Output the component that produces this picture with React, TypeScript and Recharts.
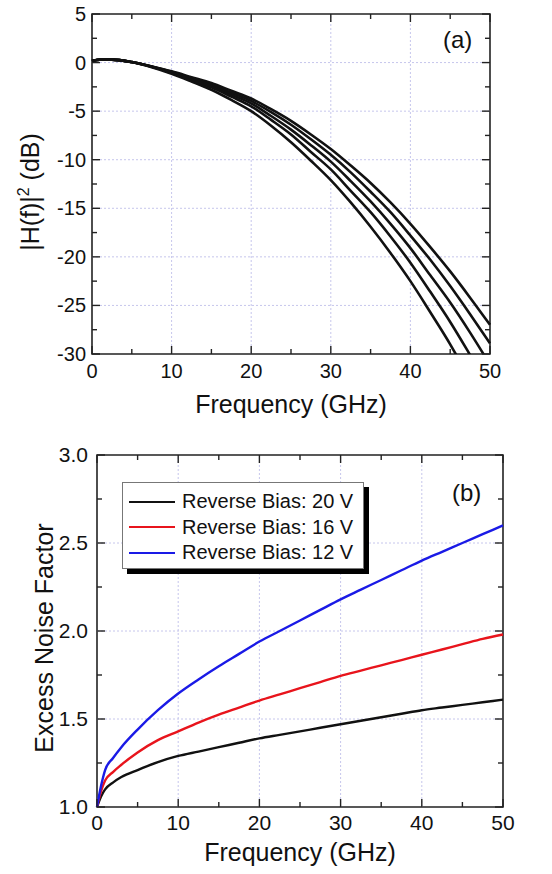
import { LineChart, Line, XAxis, YAxis, ReferenceLine, ReferenceArea, Legend } from 'recharts'

const FONT = '"Liberation Sans", Arial, Helvetica, sans-serif'

// panel (a): |H(f)|^2 in dB for five bias settings
const freqA = [0, 1, 2.5, 5, 7.5, 10, 12.5, 15, 17.5, 20, 22.5, 25, 27.5, 30, 32.5, 35, 37.5, 40, 42.5, 45, 47.5, 50]
const resp1 = [0.15, 0.3, 0.3, 0.05, -0.4, -0.9, -1.5, -2.1, -2.9, -3.7, -4.8, -6.0, -7.4, -8.9, -10.6, -12.4, -14.4, -16.6, -19.0, -21.5, -24.2, -27.0]
const resp2 = [0.15, 0.3, 0.3, 0.05, -0.4, -0.95, -1.6, -2.25, -3.1, -3.95, -5.1, -6.4, -7.9, -9.5, -11.3, -13.3, -15.4, -17.8, -20.3, -23.0, -25.9, -28.9]
const resp3 = [0.15, 0.3, 0.3, 0.05, -0.42, -1.0, -1.7, -2.4, -3.3, -4.2, -5.5, -6.9, -8.5, -10.2, -12.2, -14.3, -16.6, -19.1, -21.9, -24.7, -27.8, -31.1]
const resp4 = [0.15, 0.3, 0.3, 0.05, -0.44, -1.05, -1.8, -2.55, -3.5, -4.5, -5.9, -7.4, -9.2, -11.0, -13.2, -15.4, -17.9, -20.6, -23.6, -26.7, -30.1, -33.6]
const resp5 = [0.15, 0.3, 0.3, 0.03, -0.48, -1.15, -1.95, -2.8, -3.85, -5.0, -6.5, -8.2, -10.1, -12.1, -14.4, -16.9, -19.6, -22.5, -25.7, -29.0, -32.7, -36.5]

// panel (b): excess noise factor
const freqB = [0, 0.5, 1, 2, 3, 5, 7.5, 10, 12.5, 15, 17.5, 20, 22.5, 25, 27.5, 30, 32.5, 35, 37.5, 40, 42.5, 45, 47.5, 50]
const bias20 = [1.0, 1.06, 1.1, 1.14, 1.17, 1.21, 1.255, 1.29, 1.315, 1.34, 1.365, 1.39, 1.41, 1.43, 1.45, 1.47, 1.49, 1.51, 1.53, 1.55, 1.565, 1.58, 1.595, 1.61]
const bias16 = [1.0, 1.09, 1.15, 1.2, 1.24, 1.31, 1.38, 1.43, 1.48, 1.525, 1.565, 1.605, 1.64, 1.675, 1.71, 1.745, 1.775, 1.805, 1.835, 1.865, 1.895, 1.925, 1.955, 1.98]
const bias12 = [1.0, 1.12, 1.21, 1.28, 1.34, 1.44, 1.55, 1.645, 1.725, 1.8, 1.87, 1.94, 2.0, 2.06, 2.12, 2.18, 2.235, 2.29, 2.345, 2.4, 2.45, 2.5, 2.55, 2.6]
const legendOrder = ['v20', 'v16', 'v12']

const xTicks = [0, 5, 10, 15, 20, 25, 30, 35, 40, 45, 50]
const xGrid = [10, 20, 30, 40]
const yTicksA = [5, 2.5, 0, -2.5, -5, -7.5, -10, -12.5, -15, -17.5, -20, -22.5, -25, -27.5, -30]
const yGridA = [0, -5, -10, -15, -20, -25]
const yTicksB = [1, 1.25, 1.5, 1.75, 2, 2.25, 2.5, 2.75, 3]
const yGridB = [1.5, 2, 2.5]

const dataA = freqA.map((f, i) => ({ f, r1: resp1[i], r2: resp2[i], r3: resp3[i], r4: resp4[i], r5: resp5[i] }))
const dataB = freqB.map((f, i) => ({ f, v20: bias20[i], v16: bias16[i], v12: bias12[i] }))

const GRID = '#c6c6ec'

const makeXTick = (plotH: number, labelDy: number, fs: number) => (props: any) => {
  const { x, y, payload } = props
  const v = payload.value
  const major = v % 10 === 0
  const len = major ? 8 : 5
  return (
    <g>
      <line x1={x} x2={x} y1={y} y2={y - len} stroke="#222" strokeWidth={1.4} />
      <line x1={x} x2={x} y1={y - plotH} y2={y - plotH + len} stroke="#222" strokeWidth={1.4} />
      {major && (
        <text x={x} y={y + labelDy} textAnchor="middle" fontSize={fs} fontFamily={FONT} fill="#111">{v}</text>
      )}
    </g>
  )
}

const makeYTick = (plotW: number, labelDx: number, fs: number, isMajor: (v: number) => boolean, fmt: (v: number) => string) => (props: any) => {
  const { x, y, payload } = props
  const v = payload.value
  const major = isMajor(v)
  const len = major ? 8 : 5
  return (
    <g>
      <line x1={x} x2={x + len} y1={y} y2={y} stroke="#222" strokeWidth={1.4} />
      <line x1={x + plotW} x2={x + plotW - len} y1={y} y2={y} stroke="#222" strokeWidth={1.4} />
      {major && (
        <text x={x - labelDx} y={y + 7} textAnchor="end" fontSize={fs} fontFamily={FONT} fill="#111">{fmt(v)}</text>
      )}
    </g>
  )
}

const xTitle = (dy: number) => (p: any) => {
  const vb = p.viewBox
  return (
    <text x={vb.x + vb.width / 2} y={vb.y + dy} textAnchor="middle" fontSize={25} fontFamily={FONT} fill="#111">
      Frequency (GHz)
    </text>
  )
}

function renderLegend(props: any) {
  const items = [...(props.payload || [])].sort(
    (a: any, b: any) => legendOrder.indexOf(a.dataKey) - legendOrder.indexOf(b.dataKey)
  )
  return (
    <div style={{
      width: 242, height: 87, boxSizing: 'border-box', background: '#fff',
      border: '1px solid #777', boxShadow: '5px 5px 0 #000',
      padding: '6px 0 0 6px', fontFamily: FONT, fontSize: 20, color: '#111',
    }}>
      {items.map((it: any) => (
        <div key={it.value} style={{ display: 'flex', alignItems: 'center', height: 25.5 }}>
          <span style={{ display: 'inline-block', width: 46, borderTop: `2.5px solid ${it.color}`, marginRight: 7 }} />
          <span>{it.value}</span>
        </div>
      ))}
    </div>
  )
}

const lineProps = { type: 'monotone' as const, dot: false, isAnimationActive: false, activeDot: false }

export default function App() {
  return (
    <div style={{ position: 'absolute', left: 0, top: 0, width: 552, height: 874, background: '#fff' }}>
      {/* (a) frequency response */}
      <div style={{ position: 'absolute', left: 0, top: 0 }}>
        <LineChart width={552} height={440} data={dataA} margin={{ top: 14, right: 62, bottom: 26, left: 32 }}>
          <XAxis
            type="number" dataKey="f" domain={[0, 50]} ticks={xTicks} interval={0}
            axisLine={false} tickLine={false} tickSize={0} tickMargin={0} height={60}
            tick={makeXTick(340, 24, 20)}
            label={{ content: xTitle(59) }}
          />
          <YAxis
            type="number" domain={[-30, 5]} ticks={yTicksA} interval={0} allowDataOverflow
            axisLine={false} tickLine={false} tickSize={0} tickMargin={0} width={60}
            tick={makeYTick(398, 6, 20, v => v % 5 === 0, v => String(v))}
            label={{
              content: (p: any) => {
                const vb = p.viewBox
                const cx = vb.x + 7
                const cy = vb.y + vb.height / 2 + 8
                return (
                  <text x={cx} y={cy} transform={`rotate(-90, ${cx}, ${cy})`} textAnchor="middle" fontSize={25} fontFamily={FONT} fill="#111">
                    <tspan>|H(f)|</tspan>
                    <tspan dy={-10} fontSize={16}>2</tspan>
                    <tspan dy={10}> (dB)</tspan>
                  </text>
                )
              },
            }}
          />
          {xGrid.map(v => <ReferenceLine key={'x' + v} x={v} stroke={GRID} strokeDasharray="2 2" />)}
          {yGridA.map(v => <ReferenceLine key={'y' + v} y={v} stroke={GRID} strokeDasharray="2 2" />)}
          <Line {...lineProps} dataKey="r1" stroke="#111" strokeWidth={2.6} />
          <Line {...lineProps} dataKey="r2" stroke="#111" strokeWidth={2.6} />
          <Line {...lineProps} dataKey="r3" stroke="#111" strokeWidth={2.6} />
          <Line {...lineProps} dataKey="r4" stroke="#111" strokeWidth={2.6} />
          <Line {...lineProps} dataKey="r5" stroke="#111" strokeWidth={2.6} />
          <ReferenceArea x1={0} x2={50} y1={-30} y2={5} fill="none" stroke="#222" strokeWidth={1.6} />
        </LineChart>
        <div style={{ position: 'absolute', left: 443, top: 28, fontFamily: FONT, fontSize: 24, lineHeight: 1, color: '#111' }}>(a)</div>
      </div>

      {/* (b) excess noise factor */}
      <div style={{ position: 'absolute', left: 0, top: 440 }}>
        <LineChart width={552} height={434} data={dataB} margin={{ top: 15, right: 49, bottom: 17, left: 37 }}>
          <XAxis
            type="number" dataKey="f" domain={[0, 50]} ticks={xTicks} interval={0}
            axisLine={false} tickLine={false} tickSize={0} tickMargin={0} height={50}
            tick={makeXTick(352, 23, 21)}
            label={{ content: xTitle(54) }}
          />
          <YAxis
            type="number" domain={[1, 3]} ticks={yTicksB} interval={0} allowDataOverflow
            axisLine={false} tickLine={false} tickSize={0} tickMargin={0} width={60}
            tick={makeYTick(406, 9, 21, v => Math.round(v * 100) % 50 === 0, v => v.toFixed(1))}
            label={{
              content: (p: any) => {
                const vb = p.viewBox
                const cx = vb.x + 16
                const cy = vb.y + vb.height / 2 + 7
                return (
                  <text x={cx} y={cy} transform={`rotate(-90, ${cx}, ${cy})`} textAnchor="middle" fontSize={25} fontFamily={FONT} fill="#111">
                    Excess Noise Factor
                  </text>
                )
              },
            }}
          />
          {xGrid.map(v => <ReferenceLine key={'x' + v} x={v} stroke={GRID} strokeDasharray="2 2" />)}
          {yGridB.map(v => <ReferenceLine key={'y' + v} y={v} stroke={GRID} strokeDasharray="2 2" />)}
          <Line {...lineProps} dataKey="v20" name="Reverse Bias: 20 V" stroke="#111" strokeWidth={2.4} />
          <Line {...lineProps} dataKey="v16" name="Reverse Bias: 16 V" stroke="#e8141c" strokeWidth={2.4} />
          <Line {...lineProps} dataKey="v12" name="Reverse Bias: 12 V" stroke="#1a1ae6" strokeWidth={2.4} />
          <ReferenceArea x1={0} x2={50} y1={1} y2={3} fill="none" stroke="#222" strokeWidth={1.6} />
          <Legend
            verticalAlign="middle" layout="horizontal" content={renderLegend}
            wrapperStyle={{ left: 122, top: 42, width: 242, height: 87 }}
          />
        </LineChart>
        <div style={{ position: 'absolute', left: 452, top: 41, fontFamily: FONT, fontSize: 24, lineHeight: 1, color: '#111' }}>(b)</div>
      </div>
    </div>
  )
}
